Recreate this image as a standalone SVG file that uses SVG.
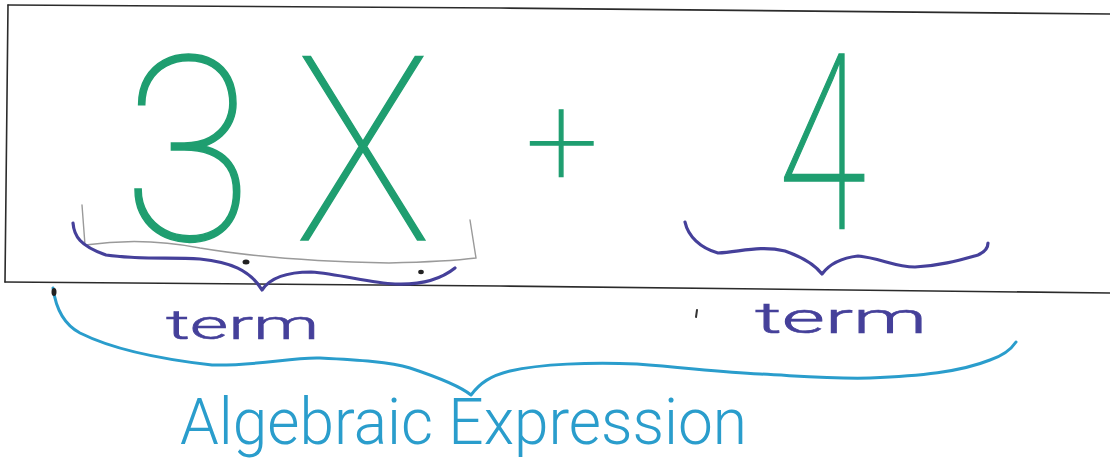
<svg xmlns="http://www.w3.org/2000/svg" width="1110" height="463" viewBox="0 0 1110 463">
<style>
.frame{fill:none;stroke:#2b2b2b;stroke-width:1.6;stroke-linecap:round}
.gray{fill:none;stroke:#9a9a9a;stroke-width:1.4;stroke-linecap:round}
.pb{fill:none;stroke:#45409a;stroke-width:3.2;stroke-linecap:round;stroke-linejoin:round}
.cb{fill:none;stroke:#2a9dcc;stroke-width:3;stroke-linecap:round;stroke-linejoin:round}
.big{font-family:Roboto,"Open Sans","Liberation Sans",sans-serif;font-weight:100;fill:#1f9e70;stroke:#1f9e70;stroke-width:1.5}
.term{font-family:Roboto,"Open Sans","Liberation Sans",sans-serif;font-weight:300;fill:#45409a;stroke:#45409a;stroke-width:0.6}
.alg{font-family:Roboto,"Open Sans","Liberation Sans",sans-serif;font-weight:300;font-size:64px;fill:#2a9dcc}
.dot{fill:#222}
</style>
<rect width="1110" height="463" fill="#ffffff"/>
<g id="frame">
<path class="frame" d="M8,5 L500,8 L1110,14"/>
<path class="frame" d="M8,5 L5,282"/>
<path class="frame" d="M5,282 L500,286 L1110,293"/>
</g>
<g id="expression">
<text class="big" font-size="258" x="188" y="240" text-anchor="middle" textLength="130" lengthAdjust="spacingAndGlyphs">3</text>
<text class="big" font-size="258" x="363" y="240" text-anchor="middle" textLength="136" lengthAdjust="spacingAndGlyphs">X</text>
<text class="big" font-size="128" x="562" y="186" text-anchor="middle">+</text>
<text class="big" font-size="245" x="778" y="229" textLength="88" lengthAdjust="spacingAndGlyphs">4</text>
</g>
<g id="connectors">
<path class="gray" d="M82,205 L85,245 C120,240 160,240 200,248 C260,258 330,262 389,263 C430,262 460,260 476,258 L470,220"/>
<path class="pb" d="M73,223 C74,236 80,246 106,255 C140,260 170,257 200,259 C230,262 250,270 262,290 C270,278 285,272 311,272 C340,274 370,283 395,284 C420,285 440,280 455,268"/>
<path class="pb" d="M685,222 C688,236 700,248 718,253 C740,252 760,245 785,251 C805,258 815,265 822,274 C828,266 840,258 858,256 C880,258 895,267 915,267 C940,266 960,260 978,255 C985,252 988,248 988,243"/>
<path class="cb" d="M53,288 C56,310 65,325 80,333 C110,348 150,358 212,365 C260,366 290,357 320,358 C360,360 390,362 410,368 C440,378 460,386 471,395 C480,383 490,376 510,371 C540,364 590,362 637,364 C690,368 720,372 760,374 C800,376 830,379 870,378 C920,376 960,372 990,360 C1005,355 1012,348 1016,342"/>
</g>
<g id="marks">
<ellipse class="dot" cx="246" cy="262" rx="3.5" ry="2.5"/>
<ellipse class="dot" cx="421" cy="272" rx="2.8" ry="2.2"/>
<ellipse class="dot" cx="54" cy="292" rx="2.5" ry="4"/>
<path d="M697,310 L696,317" stroke="#333" stroke-width="2" stroke-linecap="round"/>
</g>
<g id="labels">
<text class="term" font-size="40" x="166" y="339" textLength="153" lengthAdjust="spacingAndGlyphs">term</text>
<text class="term" font-size="42" x="755" y="333" textLength="172" lengthAdjust="spacingAndGlyphs">term</text>
<text class="alg" x="180" y="444" textLength="567" lengthAdjust="spacingAndGlyphs">Algebraic Expression</text>
</g>
</svg>
